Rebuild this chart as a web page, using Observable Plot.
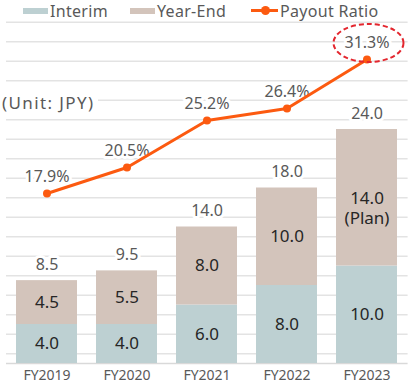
<!DOCTYPE html>
<html><head><meta charset="utf-8">
<script src="https://cdn.jsdelivr.net/npm/d3@7"></script>
<script src="https://cdn.jsdelivr.net/npm/@observablehq/plot@0.6"></script>
<style>
body{margin:0;background:#fff;font-family:"Noto Sans",sans-serif;}
#wrap{position:relative;width:408px;height:389px;overflow:hidden;}
.lg{position:absolute;font-size:16px;color:#595959;line-height:18px;top:2px;white-space:nowrap;letter-spacing:0.3px;}
.sw{position:absolute;top:8px;width:25px;height:6px;}
#unit{position:absolute;left:2px;top:91px;font-size:17px;line-height:24px;color:#595959;background:#fff;padding-right:3px;letter-spacing:1.4px;}
</style></head><body><div id="wrap"></div>
<script>
const years = ["FY2019","FY2020","FY2021","FY2022","FY2023"];
const interim = [4.0, 4.0, 6.0, 8.0, 10.0];
const yearEnd = [4.5, 5.5, 8.0, 10.0, 14.0];
const totals = [8.5, 9.5, 14.0, 18.0, 24.0];
const payout = [17.9, 20.5, 25.2, 26.4, 31.3];
const yearEndNotes = ["", "", "", "", "(Plan)"];
const gridValues = [1,3,5,7,9,11,13,15,17,19,21,23,25,27,29,31,33,35];
const parts = ["Interim", "Year-End"];
const partColors = ["#bdd0d2", "#d3c4bb"];
const orange = "#fc5a10";
// secondary (percent) axis mapped onto the dividend axis
const ratioOffset = 0.9, ratioPerUnit = 0.975;
const ratioToY = p => (p - ratioOffset) / ratioPerUnit;

const rows = [];
years.forEach((y, i) => {
  rows.push({year: y, part: "Interim", value: interim[i], note: ""});
  rows.push({year: y, part: "Year-End", value: yearEnd[i], note: yearEndNotes[i]});
});
const totalRows = years.map((y, i) => ({year: y, total: totals[i]}));
const ratioRows = years.map((y, i) => ({year: y, ratio: payout[i], yv: ratioToY(payout[i])}));

const ellipse = (index, scales) => {
  const i = years.length - 1;
  const cx = scales.x(years[i]) + scales.x.bandwidth() / 2 + 2;
  const cy = scales.y(ratioToY(payout[i])) - 16;
  const e = d3.create("svg:ellipse")
    .attr("cx", cx).attr("cy", cy).attr("rx", 35).attr("ry", 19)
    .attr("fill", "none").attr("stroke", "#e3262e")
    .attr("stroke-width", 2).attr("stroke-dasharray", "5,3");
  return e.node();
};

const chart = Plot.plot({
  width: 408, height: 389,
  marginTop: 12, marginBottom: 26, marginLeft: 6, marginRight: 0.4,
  style: {fontFamily: "Noto Sans, sans-serif", background: "#fff"},
  x: {domain: years, paddingInner: 0.232, paddingOuter: 0.116, label: null, tickSize: 0, tickPadding: 6},
  y: {domain: [0, 36], axis: null},
  color: {domain: parts, range: partColors},
  marks: [
    Plot.ruleY(gridValues, {stroke: "#e3e3e3", strokeWidth: 1.3}),
    Plot.ruleY([0], {stroke: "#d9d9d9", strokeWidth: 1.3}),
    Plot.barY(rows, {x: "year", y: "value", fill: "part"}),
    Plot.axisX({tickSize: 0, tickPadding: 7, fontSize: 14, fill: "#595959", label: null}),
    Plot.text(rows, Plot.stackY({x: "year", y: "value", text: d => d.note ? null : d.value.toFixed(1), fontSize: 17, fill: "#262626"})),
    Plot.text(rows, Plot.stackY({x: "year", y: "value", text: d => d.note ? d.value.toFixed(1) + "\n" + d.note : null, dy: 10, lineHeight: 1.18, fontSize: 17, fill: "#262626"})),
    Plot.text(totalRows, {x: "year", y: "total", text: d => d.total.toFixed(1), dy: -16, fontSize: 16, fill: "#595959", stroke: "#fff", strokeWidth: 6}),
    Plot.text(ratioRows, {x: "year", y: "yv", text: d => d.ratio.toFixed(1) + "%", dy: -17, fontSize: 16, fill: "#595959", stroke: "#fff", strokeWidth: 6}),
    Plot.line(ratioRows, {x: "year", y: "yv", stroke: orange, strokeWidth: 3}),
    Plot.dot(ratioRows, {x: "year", y: "yv", r: 4, fill: orange}),
    ellipse
  ]
});
const wrap = document.getElementById("wrap");
wrap.appendChild(chart);
chart.style.position = "absolute"; chart.style.left = "0"; chart.style.top = "0";

const legendHtml = `
<div class="sw" style="left:23px;background:${partColors[0]}"></div>
<div class="lg" style="left:50px">${parts[0]}</div>
<div class="sw" style="left:130px;background:${partColors[1]}"></div>
<div class="lg" style="left:157px">${parts[1]}</div>
<div style="position:absolute;left:251px;top:9px;width:27px;height:3px;background:${orange}"></div>
<div style="position:absolute;left:261px;top:6px;width:9px;height:9px;border-radius:50%;background:${orange}"></div>
<div class="lg" style="left:280px">Payout Ratio</div>
<div id="unit">(Unit: JPY)</div>`;
wrap.insertAdjacentHTML("beforeend", legendHtml);
</script></body></html>
